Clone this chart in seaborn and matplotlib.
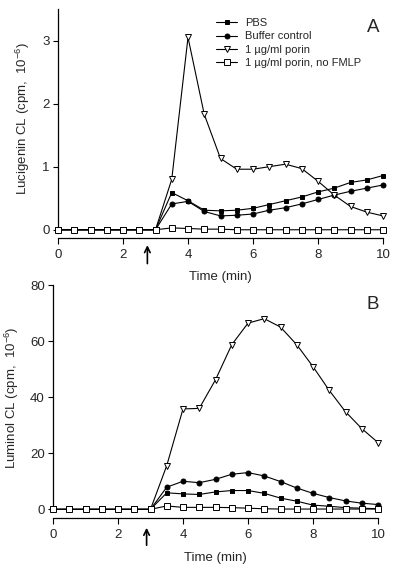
import numpy as np
import pandas as pd
import seaborn as sns
import matplotlib
matplotlib.use('Agg')
import matplotlib.pyplot as plt

# time points (min)
time = [0, 0.5, 1, 1.5, 2, 2.5, 3, 3.5, 4, 4.5, 5, 5.5, 6, 6.5, 7, 7.5, 8, 8.5, 9, 9.5, 10]

# panel A - lucigenin CL (cpm, 10^-6)
pbs_a = [0, 0, 0, 0, 0, 0, 0, 0.59, 0.46, 0.31, 0.30, 0.31, 0.34, 0.40, 0.46, 0.52, 0.60, 0.66, 0.75, 0.79, 0.86]
buffer_a = [0, 0, 0, 0, 0, 0, 0, 0.41, 0.45, 0.29, 0.22, 0.23, 0.25, 0.31, 0.35, 0.41, 0.48, 0.55, 0.61, 0.66, 0.71]
porin_a = [0, 0, 0, 0, 0, 0, 0, 0.80, 3.05, 1.83, 1.13, 0.96, 0.96, 1.00, 1.04, 0.97, 0.77, 0.55, 0.37, 0.28, 0.22]
nofmlp_a = [0, 0, 0, 0, 0, 0, 0, 0.03, 0.02, 0.01, 0.01, 0, 0, 0, 0, 0, 0, 0, 0, 0, 0]

# panel B - luminol CL (cpm, 10^-6)
pbs_b = [0, 0, 0, 0, 0, 0, 0, 5.9, 5.5, 5.3, 6.2, 6.7, 6.7, 5.7, 4.0, 2.9, 1.5, 1.1, 0.6, 0.4, 0.2]
buffer_b = [0, 0, 0, 0, 0, 0, 0, 7.9, 10.0, 9.5, 10.7, 12.5, 13.1, 11.9, 9.9, 7.6, 5.7, 4.2, 3.0, 2.2, 1.7]
porin_b = [0, 0, 0, 0, 0, 0, 0, 15.6, 35.8, 36.0, 46.2, 58.7, 66.4, 68.0, 65.0, 58.7, 50.9, 42.4, 34.8, 28.8, 23.8]
nofmlp_b = [0, 0, 0, 0, 0, 0, 0, 1.2, 0.7, 0.7, 0.7, 0.6, 0.4, 0.2, 0.1, 0.1, 0.1, 0.1, 0.1, 0.1, 0.1]

labels = ['PBS', 'Buffer control', '1 µg/ml porin', '1 µg/ml porin, no FMLP']
# marker, face colour, size
styles = [('s', 'black', 3.4), ('o', 'black', 3.6), ('v', 'white', 4.2), ('s', 'white', 3.9)]

sns.set_style('ticks')
plt.rcParams['font.family'] = ['Liberation Sans', 'DejaVu Sans']
plt.rcParams['mathtext.default'] = 'regular'

fig = plt.figure(figsize=(4, 5.7), dpi=100)
ax_a = fig.add_axes([0.145, 0.5825, 0.8125, 0.4017])
ax_b = fig.add_axes([0.1325, 0.0912, 0.8125, 0.4088])


def draw_panel(ax, series, show_label):
    for vals, lab, (mk, fc, ms) in zip(series, labels, styles):
        sns.lineplot(x=time, y=vals, ax=ax, color='black', lw=0.8,
                     marker=mk, markersize=ms, markerfacecolor=fc,
                     markeredgecolor='black', markeredgewidth=0.7,
                     label=lab if show_label else None, legend=show_label,
                     clip_on=False, zorder=3)
    ax.set_xlim(0, 10)
    ax.set_xticks([0, 2, 4, 6, 8, 10])
    sns.despine(ax=ax)
    ax.tick_params(labelsize=9.5, width=0.8, color='black')
    ax.tick_params(axis='x', length=4, pad=4)
    ax.tick_params(axis='y', length=3.5, pad=2.5)
    for s in ['left', 'bottom']:
        ax.spines[s].set_linewidth(0.9)
        ax.spines[s].set_color('black')
    ax.set_xlabel('Time (min)', fontsize=9.5)


draw_panel(ax_a, [pbs_a, buffer_a, porin_a, nofmlp_a], True)
ax_a.set_ylim(-0.13, 3.5)
ax_a.set_yticks([0, 1, 2, 3])
ax_a.spines['left'].set_bounds(-0.05, 3.5)
ax_a.set_ylabel('Lucigenin CL (cpm,  10$^{-6}$)', fontsize=9.5)
ax_a.yaxis.set_label_coords(-0.08, 0.52)
ax_a.xaxis.set_label_coords(0.5, -0.145)
ax_a.legend(loc='upper left', bbox_to_anchor=(0.486, 0.96), frameon=False,
            fontsize=8, borderpad=0, borderaxespad=0, handlelength=1.9,
            handletextpad=0.75, labelspacing=0.3, numpoints=1)
ax_a.text(0.969, 0.921, 'A', transform=ax_a.transAxes, fontsize=13.5,
          ha='center', va='center')
ax_a.annotate('', xy=(2.75, -0.2), xytext=(2.75, -0.58),
              arrowprops=dict(arrowstyle='->', lw=1.2, color='black'),
              annotation_clip=False)

draw_panel(ax_b, [pbs_b, buffer_b, porin_b, nofmlp_b], False)
ax_b.set_ylim(-3.1, 80)
ax_b.set_yticks([0, 20, 40, 60, 80])
ax_b.spines['left'].set_bounds(-0.7, 80)
ax_b.set_ylabel('Luminol CL (cpm,  10$^{-6}$)', fontsize=9.5)
ax_b.yaxis.set_label_coords(-0.098, 0.515)
ax_b.xaxis.set_label_coords(0.5, -0.145)
ax_b.text(0.985, 0.918, 'B', transform=ax_b.transAxes, fontsize=13.5,
          ha='center', va='center')
ax_b.annotate('', xy=(2.88, -5.6), xytext=(2.88, -13.8),
              arrowprops=dict(arrowstyle='->', lw=1.2, color='black'),
              annotation_clip=False)

fig.savefig('out.png', dpi=100)
